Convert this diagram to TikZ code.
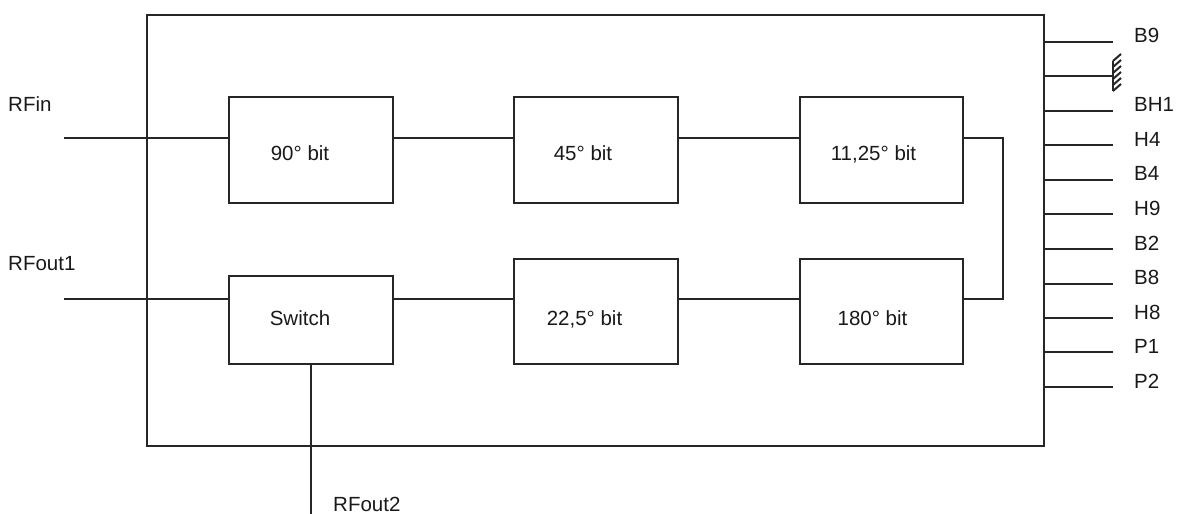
\documentclass[tikz,border=0pt]{standalone}
\usepackage{fontspec}
\setmainfont{Liberation Sans}
\tikzset{
  wire/.style={draw=black!85,line width=2pt},
  blockbox/.style={draw=black!85,line width=2pt,rectangle,inner sep=0pt,outer sep=0pt,anchor=north west},
  lbl/.style={font=\fontsize{20.5}{24}\selectfont,text=black!90,inner sep=0pt,anchor=base},
  pinlbl/.style={font=\fontsize{20.5}{24}\selectfont,text=black!90,inner sep=0pt,anchor=base west}
}
\begin{document}
\begin{tikzpicture}[x=1pt,y=-1pt]
\useasboundingbox (0,0) rectangle (1178,514);
\node[blockbox,minimum width=897pt,minimum height=431pt] (outer) at (147,15) {};
\node[blockbox,minimum width=164pt,minimum height=106pt] (b90) at (229,97) {};
\node[blockbox,minimum width=164pt,minimum height=106pt] (b45) at (514,97) {};
\node[blockbox,minimum width=163pt,minimum height=106pt] (b11) at (800,97) {};
\node[blockbox,minimum width=164pt,minimum height=88pt] (sw) at (229,276) {};
\node[blockbox,minimum width=164pt,minimum height=105pt] (b22) at (514,259) {};
\node[blockbox,minimum width=163pt,minimum height=105pt] (b180) at (800,259) {};
\node[lbl] (t90) at (300,160) {90° bit};
\node[lbl] (t45) at (583,160) {45° bit};
\node[lbl] (t11) at (873.5,160) {11,25° bit};
\node[lbl] (tsw) at (300,325) {Switch};
\node[lbl] (t22) at (584.5,325) {22,5° bit};
\node[lbl] (t180) at (872.5,325) {180° bit};
\node[pinlbl] (rfin) at (8,111) {RFin};
\node[pinlbl] (rfo1) at (8,270) {RFout1};
\node[pinlbl] (rfo2) at (333,511) {RFout2};
% wires
\coordinate (inL) at (64,138);
\coordinate (outL) at (64,299);
\coordinate (outB) at (311,514);
\draw[wire] (inL) -- (inL -| b90.west);
\draw[wire] (outL) -- (outL -| sw.west);
\coordinate (y1) at (0,138);
\coordinate (y2) at (0,299);
\draw[wire] (y1 -| b90.east) -- (y1 -| b45.west);
\draw[wire] (y1 -| b45.east) -- (y1 -| b11.west);
\draw[wire] (y2 -| sw.east) -- (y2 -| b22.west);
\draw[wire] (y2 -| b22.east) -- (y2 -| b180.west);
\coordinate (rt) at (1003,138);
\coordinate (rb) at (1003,299);
\draw[wire] (y1 -| b11.east) -- (rt) -- (rb) -- (rb -| b180.east);
\draw[wire] (sw.south) -- (outB);
% pins
\foreach \n/\y/\ty/\t in {a/42/42/B9,c/111/111/BH1,d/145/146.5/H4,e/180/180/B4,f/214/215/H9,g/249/250/B2,h/284/284/B8,i/318/319/H8,j/352/353/P1,k/387/388/P2}{
  \coordinate (p\n) at (1113,\y);
  \draw[wire] (p\n -| outer.east) -- (p\n);
  \node[pinlbl] (l\n) at (1134,\ty) {\t};
}
\coordinate (gnd) at (1113,76);
\draw[wire] (gnd -| outer.east) -- (gnd);
\draw[wire] (1113,61) -- (1113,91);
\foreach \y in {61,67,73,79,85,91}{
  \draw[wire] (1113,\y) -- (1121,\y-7);
}
\end{tikzpicture}
\end{document}
